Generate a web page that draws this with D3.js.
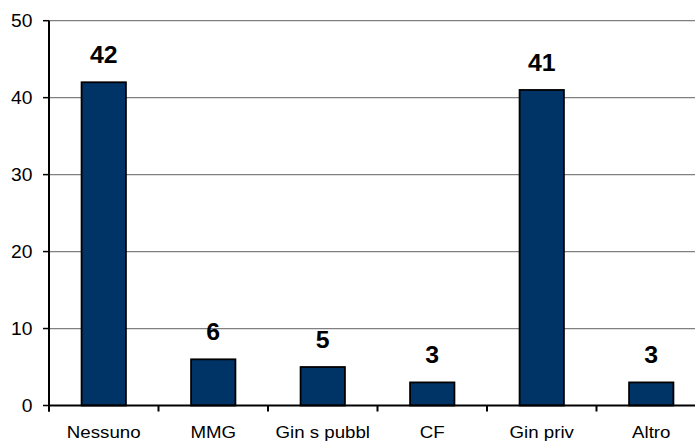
<!DOCTYPE html>
<html><head><meta charset="utf-8">
<script src="https://cdn.jsdelivr.net/npm/d3@7"></script>
<style>html,body{margin:0;padding:0;background:#fff;}svg{display:block;}</style>
</head><body>
<script>
const categories = ["Nessuno", "MMG", "Gin s pubbl", "CF", "Gin priv", "Altro"];
const values = [42, 6, 5, 3, 41, 3];
const yTicks = [0, 10, 20, 30, 40, 50];

const W = 695, H = 441;
const svg = d3.select("body").append("svg").attr("width", W).attr("height", H);

const x = d3.scaleBand().domain(categories).range([49, 706]).padding(0);
const y = d3.scaleLinear().domain([0, 50]).range([405.5, 20.7]);
const font = "Liberation Sans, Arial, sans-serif";

// gridlines
svg.append("g").selectAll("line").data(yTicks.filter(d => d > 0)).join("line")
  .attr("x1", 49).attr("x2", W).attr("y1", d => y(d)).attr("y2", d => y(d))
  .attr("stroke", "#808080").attr("stroke-width", 1.3);

// bars
const bw = x.bandwidth() * 0.405;
svg.append("g").selectAll("rect").data(values).join("rect")
  .attr("x", (d, i) => x(categories[i]) + x.bandwidth() / 2 - bw / 2)
  .attr("y", d => y(d))
  .attr("width", bw)
  .attr("height", d => y(0) - y(d))
  .attr("fill", "#003366").attr("stroke", "#000").attr("stroke-width", 1.8);

// y axis
svg.append("line").attr("x1", 49).attr("x2", 49).attr("y1", y(50)).attr("y2", y(0) + 6)
  .attr("stroke", "#000").attr("stroke-width", 2);
const yt = svg.append("g").selectAll("g").data(yTicks).join("g");
yt.append("line").attr("x1", 43).attr("x2", 49).attr("y1", d => y(d)).attr("y2", d => y(d))
  .attr("stroke", "#000").attr("stroke-width", 1.5);
yt.append("text").attr("transform", d => `translate(32.5,${y(d) + 6}) scale(1.1,1)`)
  .attr("text-anchor", "end").attr("font-family", font).attr("font-size", 17.5)
  .attr("fill", "#000").text(d => d);

// x axis
svg.append("line").attr("x1", 48).attr("x2", W).attr("y1", y(0)).attr("y2", y(0))
  .attr("stroke", "#000").attr("stroke-width", 2);
svg.append("g").selectAll("line").data(categories).join("line")
  .attr("x1", d => x(d)).attr("x2", d => x(d)).attr("y1", y(0)).attr("y2", y(0) + 6)
  .attr("stroke", "#000").attr("stroke-width", 2);
svg.append("g").selectAll("text").data(categories).join("text")
  .attr("transform", d => `translate(${x(d) + x.bandwidth() / 2},438.3) scale(1.1,1)`)
  .attr("text-anchor", "middle").attr("font-family", font).attr("font-size", 17)
  .attr("fill", "#000").text(d => d);

// value labels
svg.append("g").selectAll("text").data(values).join("text")
  .attr("transform", (d, i) => `translate(${x(categories[i]) + x.bandwidth() / 2},${y(d) - 19.3}) scale(1.08,1)`)
  .attr("text-anchor", "middle").attr("font-family", font).attr("font-size", 23)
  .attr("font-weight", "bold").attr("fill", "#000").text(d => d);
</script>
</body></html>
